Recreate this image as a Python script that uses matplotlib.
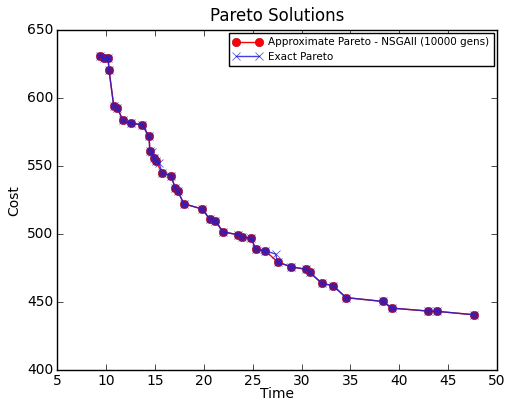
import matplotlib
matplotlib.use('Agg')
import matplotlib.pyplot as plt

# approximate pareto front (NSGAII, 10000 gens)
approx_time = [9.35, 9.76, 10.20, 10.30, 10.78, 11.16, 11.70, 12.52, 13.68, 14.40,
               14.47, 14.88, 15.06, 15.73, 16.62, 17.10, 17.33, 17.95, 19.86, 20.61,
               21.17, 21.97, 23.53, 23.88, 24.88, 25.29, 26.31, 27.55, 28.93, 30.46,
               30.84, 32.10, 33.23, 34.56, 38.32, 39.22, 42.99, 43.89, 47.65]
approx_cost = [630.9, 629.2, 629.2, 620.4, 594.1, 592.9, 583.6, 581.4, 580.5, 571.8,
               561.2, 556.2, 553.7, 545.1, 543.0, 533.6, 531.8, 522.3, 518.4, 510.8,
               509.8, 501.6, 499.5, 497.9, 496.8, 489.0, 487.7, 479.4, 476.0, 474.1,
               471.9, 463.7, 462.1, 453.3, 450.5, 445.6, 443.4, 443.2, 440.7]

# exact pareto front
exact_time = [9.35, 9.76, 10.20, 10.30, 10.78, 11.16, 11.70, 12.52, 13.68, 14.40,
              14.47, 14.74, 14.88, 15.06, 15.42, 15.73, 16.62, 17.10, 17.33, 17.95,
              19.86, 20.61, 21.17, 21.97, 23.53, 23.88, 24.88, 25.29, 26.31, 27.36,
              27.55, 28.93, 30.46, 30.84, 32.10, 33.23, 34.56, 38.32, 39.22, 42.99,
              43.89, 47.65]
exact_cost = [630.9, 629.2, 629.2, 620.4, 594.1, 592.9, 583.6, 581.4, 580.5, 571.8,
              561.2, 560.5, 556.2, 553.7, 552.0, 545.1, 543.0, 533.6, 531.8, 522.3,
              518.4, 510.8, 509.8, 501.6, 499.5, 497.9, 496.8, 489.0, 487.7, 485.3,
              479.4, 476.0, 474.1, 471.9, 463.7, 462.1, 453.3, 450.5, 445.6, 443.4,
              443.2, 440.7]

plt.style.use('classic')
fig = plt.figure(figsize=(5.16, 4.01), dpi=100, facecolor='white')
ax = fig.add_axes([0.111, 0.077, 0.852, 0.848])

l1, = ax.plot(approx_time, approx_cost, 'o-', color='red', markersize=6,
              markeredgecolor='#b01030', label='Approximate Pareto - NSGAII (10000 gens)')
ax.plot(exact_time, exact_cost, 'x-', color='#2020d0', markersize=6, alpha=0.85,
        label='Exact Pareto')

ax.set_xlim(5, 50)
ax.set_ylim(400, 650)
ax.tick_params(labelsize=10, pad=3)
ax.set_xlabel('Time', fontsize=10, labelpad=-1)
ax.set_ylabel('Cost', fontsize=10, labelpad=4)
ax.set_title('Pareto Solutions', fontsize=12, y=1.005)
leg = ax.legend(loc='upper right', fontsize=7.5, numpoints=2, borderaxespad=0.3,
                handlelength=2.8, handletextpad=0.6, borderpad=0.4, labelspacing=0.4)

# markers look purple where the blue line sits over them
l1.set_markerfacecolor('#6a1478')

fig.savefig('out.png', dpi=100, facecolor='white')
